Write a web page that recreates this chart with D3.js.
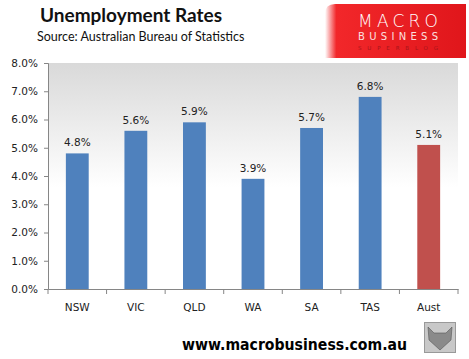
<!DOCTYPE html>
<html lang="en">
<head>
<meta charset="utf-8">
<title>Unemployment Rates</title>
<script src="https://d3js.org/d3.v7.min.js"></script>
<style>
  body { margin: 0; background: #fff; }
  .tick text { font-family: "DejaVu Sans", Verdana, sans-serif; font-size: 10.5px; fill: #222; }
</style>
</head>
<body>
<div id="main"></div>
<script>
// chart data
var states = ["NSW", "VIC", "QLD", "WA", "SA", "TAS", "Aust"];
var rates = [4.8, 5.6, 5.9, 3.9, 5.7, 6.8, 5.1];
var yTicks = [0, 1, 2, 3, 4, 5, 6, 7, 8];

var width = 469, height = 359;
var plot = { left: 48, right: 458, top: 63, bottom: 289 };

var svg = d3.select("#main").append("svg")
  .attr("width", width)
  .attr("height", height);

var defs = svg.append("defs");
var grad = defs.append("linearGradient")
  .attr("id", "bg").attr("x1", 0).attr("y1", 0).attr("x2", 0).attr("y2", 1);
grad.append("stop").attr("offset", "0%").attr("stop-color", "#d9d9d9");
grad.append("stop").attr("offset", "55%").attr("stop-color", "#ffffff");
grad.append("stop").attr("offset", "100%").attr("stop-color", "#ffffff");

var logoGrad = defs.append("linearGradient")
  .attr("id", "logo").attr("x1", 0).attr("y1", 0).attr("x2", 1).attr("y2", 0);
logoGrad.append("stop").attr("offset", "0%").attr("stop-color", "#ffffff");
logoGrad.append("stop").attr("offset", "8%").attr("stop-color", "#f2272a");
logoGrad.append("stop").attr("offset", "100%").attr("stop-color", "#e0161b");

var x = d3.scaleBand()
  .domain(states)
  .range([plot.left, plot.right])
  .paddingInner(0.61)
  .paddingOuter(0.305);

var xAxisScale = d3.scaleBand().domain(states).range([plot.left, plot.right]);

var y = d3.scaleLinear()
  .domain([0, 8])
  .range([plot.bottom, plot.top]);

// plot background
svg.append("rect")
  .attr("x", plot.left).attr("y", plot.top)
  .attr("width", plot.right - plot.left)
  .attr("height", plot.bottom - plot.top)
  .attr("fill", "url(#bg)");

// bars
svg.append("g").selectAll("rect")
  .data(rates)
  .enter().append("rect")
  .attr("x", function(d, i) { return x(states[i]); })
  .attr("y", function(d) { return y(d); })
  .attr("width", x.bandwidth())
  .attr("height", function(d) { return y(0) - y(d); })
  .attr("fill", function(d, i) { return states[i] == "Aust" ? "#c0504d" : "#4f81bd"; });

// value labels
svg.append("g").selectAll("text")
  .data(rates)
  .enter().append("text")
  .attr("x", function(d, i) { return x(states[i]) + x.bandwidth() / 2; })
  .attr("y", function(d) { return y(d) - 7; })
  .attr("text-anchor", "middle")
  .attr("font-family", "DejaVu Sans, Verdana, sans-serif")
  .attr("font-size", "10.5px")
  .attr("fill", "#222")
  .text(function(d) { return d.toFixed(1) + "%"; });

// y axis
var yAxis = svg.append("g")
  .attr("transform", "translate(" + plot.left + ",0)")
  .call(d3.axisLeft(y)
    .tickValues(yTicks)
    .tickSize(4)
    .tickFormat(function(d) { return d.toFixed(1) + "%"; }));
yAxis.select(".domain").attr("stroke", "#868686");
yAxis.selectAll(".tick line").attr("stroke", "#868686");
yAxis.selectAll(".tick text").attr("x", -10);

// x axis
var xAxis = svg.append("g")
  .attr("transform", "translate(0," + plot.bottom + ")")
  .call(d3.axisBottom(xAxisScale).tickSize(0).tickPadding(13));
xAxis.select(".domain").attr("stroke", "#868686");
xAxis.selectAll(".tick text").attr("dy", "0.9em");
// category separators
svg.append("g").selectAll("line")
  .data(states.concat(["end"]))
  .enter().append("line")
  .attr("x1", function(d, i) { return plot.left + i * xAxisScale.step(); })
  .attr("x2", function(d, i) { return plot.left + i * xAxisScale.step(); })
  .attr("y1", plot.bottom).attr("y2", plot.bottom + 5)
  .attr("stroke", "#868686");

// title
svg.append("text")
  .attr("x", 40).attr("y", 22)
  .attr("font-family", "Lato, Carlito, sans-serif")
  .attr("font-weight", "bold")
  .attr("font-size", "19px")
  .attr("fill", "#111")
  .text("Unemployment Rates");

svg.append("text")
  .attr("x", 37).attr("y", 41)
  .attr("font-family", "Lato, Carlito, sans-serif")
  .attr("font-size", "12.5px")
  .attr("fill", "#111")
  .text("Source:  Australian Bureau of Statistics");

// logo
var logo = svg.append("g");
logo.append("path")
  .attr("d", "M325,58 L325,14 Q325,4 335,4 L466,4 L466,58 Z")
  .attr("fill", "url(#logo)");
logo.append("text")
  .attr("x", 398).attr("y", 27.3)
  .attr("text-anchor", "middle")
  .attr("font-family", "DejaVu Sans, sans-serif")
  .attr("font-weight", 200)
  .attr("font-size", "17px")
  .attr("fill", "#fff")
  .attr("textLength", 80)
  .attr("lengthAdjust", "spacing")
  .text("MACRO");
logo.append("text")
  .attr("x", 398).attr("y", 39.5)
  .attr("text-anchor", "middle")
  .attr("font-family", "DejaVu Sans, sans-serif")
  .attr("font-size", "10px")
  .attr("fill", "#fbe0e0")
  .attr("textLength", 80)
  .attr("lengthAdjust", "spacing")
  .text("BUSINESS");
logo.append("text")
  .attr("x", 398).attr("y", 50)
  .attr("text-anchor", "middle")
  .attr("font-family", "DejaVu Sans, sans-serif")
  .attr("font-size", "5.5px")
  .attr("fill", "#a8141a")
  .attr("textLength", 80)
  .attr("lengthAdjust", "spacing")
  .text("SUPERBLOG");

// footer
svg.append("text")
  .attr("x", 182).attr("y", 350)
  .attr("font-family", "DejaVu Sans, Verdana, sans-serif")
  .attr("font-weight", "bold")
  .attr("font-size", "16px")
  .attr("fill", "#000")
  .attr("textLength", 225)
  .attr("lengthAdjust", "spacingAndGlyphs")
  .text("www.macrobusiness.com.au");

// wolf badge
svg.append("rect")
  .attr("x", 424.5).attr("y", 322.5)
  .attr("width", 31).attr("height", 30)
  .attr("fill", "#c8c8c8")
  .attr("stroke", "#999");
svg.append("path")
  .attr("d", "M428,327 L434,333 L446,333 L452,327 L451,340 L440,350 L429,340 Z")
  .attr("fill", "#8a8a8a")
  .attr("stroke", "#555")
  .attr("stroke-width", 0.6);
</script>
</body>
</html>
